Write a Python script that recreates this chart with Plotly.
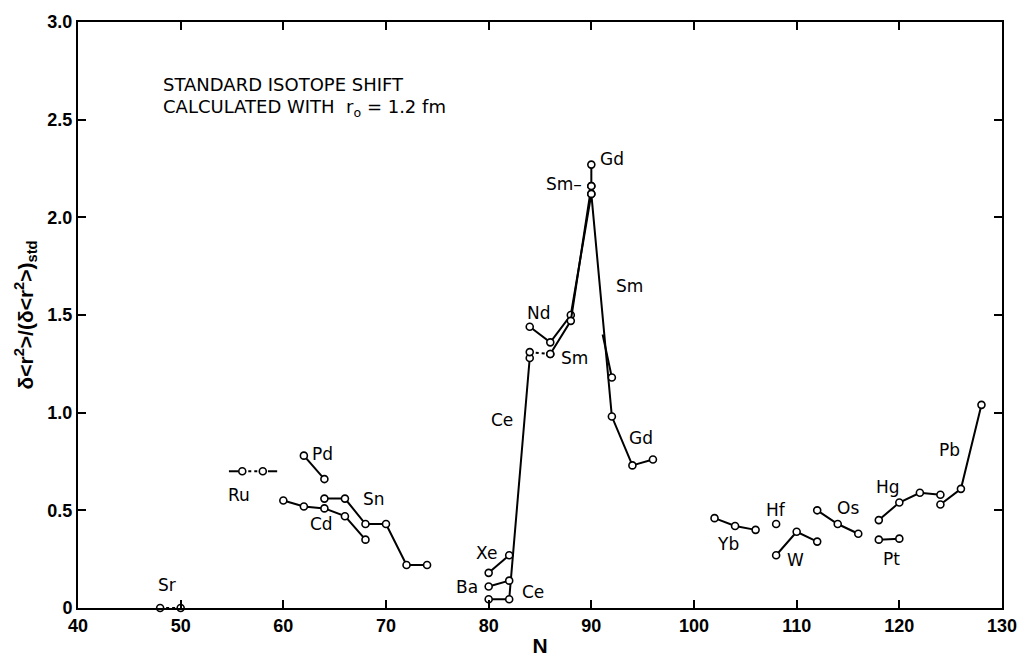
import plotly.graph_objects as go

# Neutron number N and ratio delta<r^2> / (delta<r^2>)_std for each element chain
sr_n = [48, 50]
sr_v = [0.0, 0.0]

ru_n = [56, 58]
ru_v = [0.70, 0.70]
ru_left_n = [54.7, 55.6]
ru_right_n = [58.5, 59.4]

pd_n = [62, 64]
pd_v = [0.78, 0.66]

cd_n = [60, 62, 64, 66, 68]
cd_v = [0.55, 0.52, 0.51, 0.47, 0.35]

sn_n = [64, 66, 68, 70, 72, 74]
sn_v = [0.56, 0.56, 0.43, 0.43, 0.22, 0.22]

xe_n = [80, 82]
xe_v = [0.18, 0.27]

ba_n = [80, 82]
ba_v = [0.11, 0.14]

ce_n = [80, 82, 84]
ce_v = [0.045, 0.045, 1.28]

nd_n = [84, 86, 88, 90]
nd_v = [1.44, 1.36, 1.50, 2.12]

sm_dash_n = [84, 86]
sm_dash_v = [1.31, 1.30]
sm_n = [86, 88, 90]
sm_v = [1.30, 1.47, 2.16]
sm_tail_n = [91.1, 92]
sm_tail_v = [1.40, 1.18]

gd_top_n = [90, 90]
gd_top_v = [2.27, 2.16]
gd_n = [90, 92, 94, 96]
gd_v = [2.12, 0.98, 0.73, 0.76]

yb_n = [102, 104, 106]
yb_v = [0.46, 0.42, 0.40]

hf_n = [108]
hf_v = [0.43]

w_n = [108, 110, 112]
w_v = [0.27, 0.39, 0.34]

os_n = [112, 114, 116]
os_v = [0.50, 0.43, 0.38]

hg_n = [118, 120, 122, 124]
hg_v = [0.45, 0.54, 0.59, 0.58]

pt_n = [118, 120]
pt_v = [0.35, 0.355]

pb_n = [124, 126, 128]
pb_v = [0.53, 0.61, 1.04]

# Element labels: (text, N, value, anchor)
labels = [
    ("Sr", 48.7, 0.12, "center"),
    ("Ru", 55.7, 0.58, "center"),
    ("Pd", 63.8, 0.79, "center"),
    ("Sn", 68.8, 0.56, "center"),
    ("Cd", 63.7, 0.43, "center"),
    ("Xe", 79.8, 0.28, "center"),
    ("Ba", 77.9, 0.11, "center"),
    ("Ce", 84.3, 0.08, "center"),
    ("Ce", 81.3, 0.96, "center"),
    ("Nd", 84.9, 1.51, "center"),
    ("Sm", 88.4, 1.28, "center"),
    ("Gd", 94.8, 0.87, "center"),
    ("Sm", 93.7, 1.65, "center"),
    ("Sm\u2013", 89.3, 2.17, "right"),
    ("Gd", 92.0, 2.30, "center"),
    ("Yb", 103.3, 0.33, "center"),
    ("Hf", 108.0, 0.50, "center"),
    ("W", 109.9, 0.245, "center"),
    ("Os", 115.0, 0.51, "center"),
    ("Hg", 118.9, 0.62, "center"),
    ("Pt", 119.2, 0.25, "center"),
    ("Pb", 124.9, 0.81, "center"),
]

FONT = "Liberation Sans"
LABEL_FONT = "DejaVu Sans"
LW = 2.0
MARK = dict(symbol="circle", size=7, color="white", line=dict(color="black", width=1.6))

fig = go.Figure()


def chain(x, y, dash="solid", markers=True):
    fig.add_trace(go.Scatter(
        x=x, y=y,
        mode="lines+markers" if markers else "lines",
        line=dict(color="black", width=LW, dash=dash),
        marker=MARK,
        cliponaxis=False,
        showlegend=False,
        hoverinfo="skip",
    ))


# short open-ended segments without markers
chain(ru_left_n, [ru_v[0]] * 2, markers=False)
chain(ru_right_n, [ru_v[1]] * 2, markers=False)
chain(sm_tail_n, sm_tail_v, markers=False)

chain(sr_n, sr_v, dash="dot")
chain(ru_n, ru_v, dash="dot")
chain(pd_n, pd_v)
chain(cd_n, cd_v)
chain(sn_n, sn_v)
chain(ce_n, ce_v)
chain(xe_n, xe_v)
chain(ba_n, ba_v)
chain(nd_n, nd_v)
chain(sm_dash_n, sm_dash_v, dash="dot")
chain(sm_n, sm_v)
chain(gd_n, gd_v)
chain(gd_top_n, gd_top_v)
chain(yb_n, yb_v)
chain(hf_n, hf_v)
chain(w_n, w_v)
chain(os_n, os_v)
chain(hg_n, hg_v)
chain(pt_n, pt_v)
chain(pb_n, pb_v)
# marker on the end of the short Sm segment
fig.add_trace(go.Scatter(x=sm_tail_n[-1:], y=sm_tail_v[-1:], mode="markers",
                         marker=MARK, cliponaxis=False, showlegend=False,
                         hoverinfo="skip"))

for text, xn, yv, anc in labels:
    fig.add_annotation(x=xn, y=yv, text=text, showarrow=False, xanchor=anc,
                       yanchor="middle",
                       font=dict(family=LABEL_FONT, size=17, color="black"))

fig.add_annotation(x=48.1, y=2.68, xanchor="left", yanchor="middle", showarrow=False,
                   text="STANDARD ISOTOPE SHIFT",
                   font=dict(family=LABEL_FONT, size=18, color="black"))
fig.add_annotation(x=48.1, y=2.56, xanchor="left", yanchor="middle", showarrow=False,
                   text="CALCULATED WITH  r<sub>o</sub> = 1.2 fm",
                   font=dict(family=LABEL_FONT, size=18, color="black"))

axis_common = dict(
    showline=True, linecolor="black", linewidth=2,
    mirror="ticks", ticks="inside", ticklen=8, tickwidth=2, tickcolor="black",
    showgrid=False, zeroline=False,
    tickfont=dict(family=FONT, size=18, color="black", weight="bold"),
)

fig.update_xaxes(
    range=[40, 130], tickmode="array",
    tickvals=[40, 50, 60, 70, 80, 90, 100, 110, 120, 130],
    ticktext=["40", "50", "60", "70", "80", "90", "100", "110", "120", "130"],
    title=dict(text="N", font=dict(family=FONT, size=21, color="black", weight="bold"),
               standoff=4),
    **axis_common,
)
fig.update_yaxes(
    range=[0, 3.0], tickmode="array",
    tickvals=[0, 0.5, 1.0, 1.5, 2.0, 2.5, 3.0],
    ticktext=["0", "0.5", "1.0", "1.5", "2.0", "2.5", "3.0"],
    title=dict(text="\u03b4&lt;r<sup>2</sup>&gt;/(\u03b4&lt;r<sup>2</sup>&gt;)<sub>std</sub>",
               font=dict(family=FONT, size=21, color="black", weight="bold"),
               standoff=8),
    **axis_common,
)

fig.update_layout(
    width=1031, height=666,
    margin=dict(l=78, r=29, t=15, b=58),
    paper_bgcolor="white", plot_bgcolor="white",
)

fig.write_html("out.html")
